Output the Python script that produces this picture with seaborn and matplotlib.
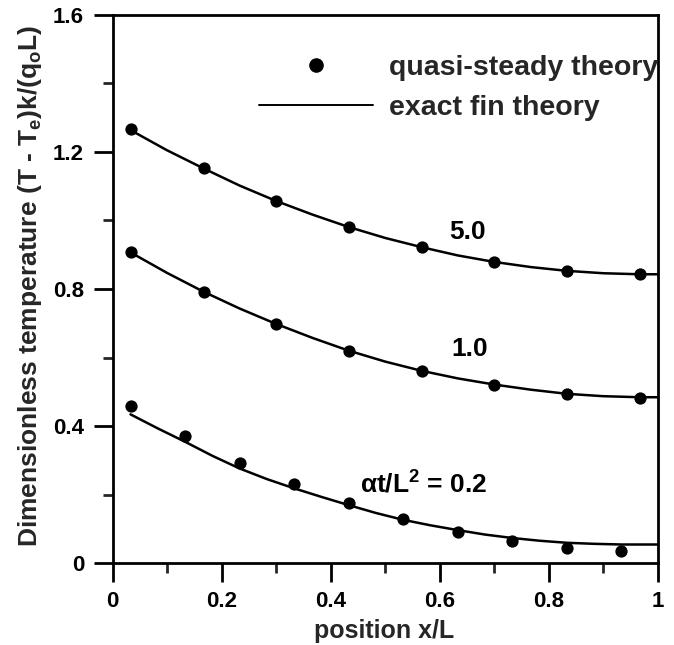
import matplotlib
matplotlib.use("Agg")
import matplotlib.pyplot as plt
import seaborn as sns
import pandas as pd
from matplotlib.lines import Line2D
from matplotlib.ticker import MultipleLocator

# ---- data ----
x_pts_upper = [0.033, 0.167, 0.300, 0.433, 0.567, 0.700, 0.833, 0.967]
quasi_5 = [1.266, 1.152, 1.057, 0.980, 0.922, 0.878, 0.853, 0.843]
quasi_1 = [0.909, 0.792, 0.698, 0.620, 0.561, 0.520, 0.493, 0.483]

x_pts_lower = [0.033, 0.133, 0.233, 0.333, 0.433, 0.533, 0.633, 0.733, 0.833, 0.933]
quasi_02 = [0.459, 0.371, 0.293, 0.230, 0.174, 0.128, 0.091, 0.064, 0.045, 0.035]

x_line_upper = [0.033, 0.1, 0.167, 0.233, 0.3, 0.367, 0.433, 0.5, 0.567, 0.633,
                0.7, 0.767, 0.833, 0.9, 0.967, 1.0]
exact_5 = [1.264, 1.205, 1.152, 1.102, 1.057, 1.017, 0.981, 0.949, 0.922, 0.898,
           0.879, 0.864, 0.853, 0.846, 0.843, 0.843]
exact_1 = [0.907, 0.847, 0.792, 0.743, 0.698, 0.657, 0.620, 0.588, 0.561, 0.539,
           0.521, 0.506, 0.494, 0.487, 0.484, 0.484]

x_line_lower = [0.033, 0.083, 0.133, 0.183, 0.233, 0.283, 0.333, 0.383, 0.433, 0.483,
                0.533, 0.583, 0.633, 0.683, 0.733, 0.783, 0.833, 0.883, 0.933, 1.0]
exact_02 = [0.434, 0.393, 0.354, 0.313, 0.276, 0.245, 0.218, 0.193, 0.169, 0.146,
            0.126, 0.110, 0.096, 0.083, 0.073, 0.065, 0.059, 0.056, 0.054, 0.054]

curve_labels = ["5.0", "1.0", r"$\alpha$t/L$^{\mathbf{2}}$ = 0.2"]
label_x = [0.650, 0.655, 0.571]
label_y = [0.967, 0.625, 0.228]

legend_labels = ["quasi-steady theory", "exact fin theory"]
x_ticks = [0, 0.2, 0.4, 0.6, 0.8, 1.0]
x_tick_labels = ["0", "0.2", "0.4", "0.6", "0.8", "1"]
y_ticks = [0, 0.4, 0.8, 1.2, 1.6]
y_tick_labels = ["0", "0.4", "0.8", "1.2", "1.6"]
x_label = "position x/L"
y_label = r"Dimensionless temperature (T - T$_{\mathbf{e}}$)k/(q$_{\mathbf{o}}$L)"

# ---- style ----
sns.set_theme(style="ticks")
plt.rcParams["font.family"] = ["Liberation Sans", "DejaVu Sans"]
plt.rcParams["font.weight"] = "bold"
plt.rcParams["mathtext.fontset"] = "custom"
plt.rcParams["mathtext.rm"] = "Liberation Sans:bold"
plt.rcParams["mathtext.bf"] = "Liberation Sans:bold"
plt.rcParams["mathtext.it"] = "Liberation Sans:italic"
plt.rcParams["mathtext.default"] = "regular"

fig = plt.figure(figsize=(6.74, 6.45), dpi=100)
ax = fig.add_axes([112.5 / 674, (645 - 563) / 645, 545.5 / 674, 548 / 645])

pts = pd.DataFrame({
    "x": x_pts_upper + x_pts_upper + x_pts_lower,
    "y": quasi_5 + quasi_1 + quasi_02,
    "series": ["5.0"] * len(x_pts_upper) + ["1.0"] * len(x_pts_upper) + ["0.2"] * len(x_pts_lower),
})
lines = pd.DataFrame({
    "x": x_line_upper + x_line_upper + x_line_lower,
    "y": exact_5 + exact_1 + exact_02,
    "series": ["5.0"] * len(x_line_upper) + ["1.0"] * len(x_line_upper) + ["0.2"] * len(x_line_lower),
})

sns.lineplot(data=lines, x="x", y="y", units="series", estimator=None, sort=False,
             color="black", linewidth=1.8, ax=ax, legend=False)
sns.scatterplot(data=pts, x="x", y="y", color="black", s=78, edgecolor="black",
                linewidth=0, ax=ax, legend=False, zorder=3)

for t, xx, yy in zip(curve_labels, label_x, label_y):
    ax.text(xx, yy, t, fontsize=19, fontweight="bold", ha="center", va="center", color="black")

ax.set_xlim(0, 1)
ax.set_ylim(0, 1.6)
ax.set_xticks(x_ticks)
ax.set_xticklabels(x_tick_labels, fontsize=16, fontweight="bold")
ax.set_yticks(y_ticks)
ax.set_yticklabels(y_tick_labels, fontsize=16, fontweight="bold")
ax.xaxis.set_minor_locator(MultipleLocator(0.1))
ax.yaxis.set_minor_locator(MultipleLocator(0.2))
ax.tick_params(which="major", direction="out", length=14, width=2,
               pad=6.5, colors="black")
ax.tick_params(which="minor", direction="out", length=7, width=2)
for sp in ax.spines.values():
    sp.set_linewidth(2)
    sp.set_color("black")
    sp.set_visible(True)

ax.set_xlabel(x_label, fontsize=18, fontweight="bold")
ax.set_ylabel(y_label, fontsize=19, fontweight="bold")
ax.xaxis.set_label_coords(0.498, -0.102)
ax.yaxis.set_label_coords(-0.1256, 0.505)

handles = [
    Line2D([], [], marker="o", color="black", linestyle="none", markersize=9.5),
    Line2D([], [], color="black", linewidth=1.4),
]
ax.legend(handles, legend_labels, loc="upper right", bbox_to_anchor=(1.0, 0.927),
          frameon=False, prop={"size": 20.5, "weight": "bold"}, handlelength=4.0,
          handletextpad=0.55, labelspacing=0.5, borderaxespad=0, borderpad=0)

fig.savefig("out.png", dpi=100)
